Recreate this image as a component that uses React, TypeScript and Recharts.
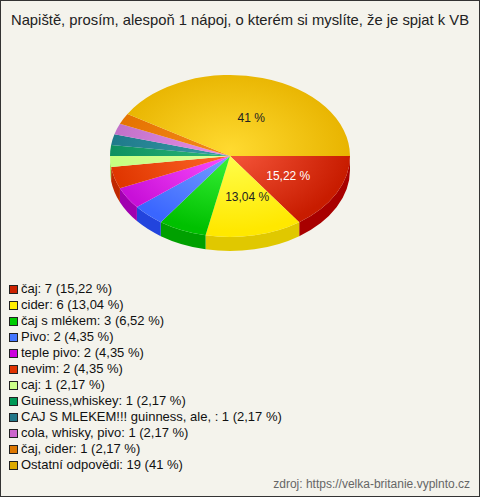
import React from 'react';
import { PieChart, Pie, Cell } from 'recharts';

const categories = [
  'čaj',
  'cider',
  'čaj s mlékem',
  'Pivo',
  'teple pivo',
  'nevim',
  'caj',
  'Guiness,whiskey',
  'CAJ S MLEKEM!!! guinness, ale, ',
  'cola, whisky, pivo',
  'čaj, cider',
  'Ostatní odpovědi',
];
const counts = [7, 6, 3, 2, 2, 2, 1, 1, 1, 1, 1, 19];
const percentLabels = ['15,22 %', '13,04 %', '6,52 %', '4,35 %', '4,35 %', '4,35 %', '2,17 %', '2,17 %', '2,17 %', '2,17 %', '2,17 %', '41 %'];
const sliceLabels = ['15,22 %', '13,04 %', '', '', '', '', '', '', '', '', '', '41 %'];

const legendColors = ['#cc2200', '#ffee00', '#00cc00', '#4477ff', '#cc00dd', '#e03300', '#ccff88', '#009955', '#227788', '#cc66cc', '#dd7700', '#ddaa00'];
const topInner = ['#f7583c', '#ffff50', '#3cf53c', '#7aa2ff', '#ff50ff', '#ff6a2a', '#e0ffa0', '#2cbb78', '#3a9aaa', '#e890e8', '#f58a1a', '#ffda30'];
const topOuter = ['#c81c00', '#ffe800', '#00c000', '#3a66ff', '#c810d8', '#e03600', '#c4ff80', '#0e9060', '#1e7a8a', '#c070c8', '#e47200', '#e8b400'];
const sideColors = ['#a80000', '#e0c800', '#00a000', '#2244dd', '#a000b0', '#c02800', '#a8e060', '#007848', '#146070', '#a050a8', '#c06000', '#c89a00'];
const labelColors = ['#ffffff', '#222222', '#222222', '#222222', '#222222', '#222222', '#222222', '#222222', '#222222', '#222222', '#222222', '#222222'];

const data = categories.map((name, i) => ({ name, value: counts[i] }));

const RATIO = 0.675;
const DEPTH = 14;

const renderSlice = (props: any) => {
  const { cx, cy, outerRadius, startAngle, endAngle, index } = props;
  const rx = outerRadius;
  const ry = outerRadius * RATIO;
  const t1 = -startAngle;
  const t2 = -endAngle;
  const pt = (t: number, dy = 0) => {
    const r = (t * Math.PI) / 180;
    return [cx + rx * Math.cos(r), cy + ry * Math.sin(r) + dy];
  };
  const [x1, y1] = pt(t1);
  const [x2, y2] = pt(t2);
  const large = t2 - t1 > 180 ? 1 : 0;
  const top = `M${cx},${cy} L${x1},${y1} A${rx},${ry} 0 ${large} 1 ${x2},${y2} Z`;

  let side: string | null = null;
  const s1 = Math.max(t1, 0);
  const s2 = Math.min(t2, 180);
  if (s2 > s1) {
    const [a1, b1] = pt(s1);
    const [a2, b2] = pt(s2);
    const [c2, d2] = pt(s2, DEPTH);
    const [c1, d1] = pt(s1, DEPTH);
    side = `M${a1},${b1} A${rx},${ry} 0 0 1 ${a2},${b2} L${c2},${d2} A${rx},${ry} 0 0 0 ${c1},${d1} Z`;
  }
  const mid = ((t1 + t2) / 2) * (Math.PI / 180);
  const lx = cx + rx * 0.5 * Math.cos(mid) + 5;
  const ly = cy + ry * 0.5 * Math.sin(mid) + 1;
  const txt = sliceLabels[index];
  return (
    <g>
      {side && <path d={side} fill={sideColors[index]} stroke="none" />}
      <path d={top} fill={`url(#grad${index})`} stroke="none" />
      {txt && (
        <text
          x={lx}
          y={ly}
          textAnchor="middle"
          dominantBaseline="central"
          fill={labelColors[index]}
          fontSize={12}
          fontFamily="'Liberation Sans', Arial, sans-serif"
        >
          {txt}
        </text>
      )}
    </g>
  );
};

export default function App() {
  return (
    <div
      style={{
        position: 'absolute',
        left: 0,
        top: 0,
        width: 480,
        height: 497,
        background: '#f4f3ec',
        fontFamily: "'Liberation Sans', Arial, sans-serif",
      }}
    >
      <PieChart width={480} height={497} margin={{ top: 0, right: 0, bottom: 0, left: 0 }}>
        <defs>
          {categories.map((_, i) => (
            <radialGradient
              key={i}
              id={`grad${i}`}
              gradientUnits="userSpaceOnUse"
              cx={0}
              cy={0}
              r={120}
              gradientTransform={`translate(230,150) scale(1,${RATIO})`}
            >
              <stop offset="0%" stopColor={topInner[i]} />
              <stop offset="100%" stopColor={topOuter[i]} />
            </radialGradient>
          ))}
        </defs>
        <Pie
          data={data}
          dataKey="value"
          nameKey="name"
          cx={230}
          cy={156}
          outerRadius={120}
          startAngle={0}
          endAngle={-360}
          label={renderSlice}
          labelLine={false}
          isAnimationActive={false}
          stroke="none"
        >
          {data.map((_, i) => (
            <Cell key={i} fill={legendColors[i]} fillOpacity={0} stroke="none" />
          ))}
        </Pie>
      </PieChart>
      <div
        style={{
          position: 'absolute',
          left: 0,
          top: 11,
          width: 480,
          textAlign: 'center',
          fontSize: 14.8,
          lineHeight: '18px',
          color: '#222',
          whiteSpace: 'nowrap',
        }}
      >
        Napiště, prosím, alespoň 1 nápoj, o kterém si myslíte, že je spjat k VB
      </div>
      <div style={{ position: 'absolute', left: 9, top: 281 }}>
        {categories.map((name, i) => (
          <div key={i} style={{ display: 'flex', alignItems: 'center', height: 16, whiteSpace: 'nowrap' }}>
            <div
              style={{
                width: 7,
                height: 7,
                border: '1px solid #222',
                background: legendColors[i],
                marginRight: 3,
              }}
            />
            <span style={{ fontSize: 13, color: '#111', lineHeight: '16px' }}>
              {`${name}: ${counts[i]} (${percentLabels[i]})`}
            </span>
          </div>
        ))}
      </div>
      <div
        style={{
          position: 'absolute',
          right: 10,
          top: 477,
          fontSize: 12,
          lineHeight: '15px',
          color: '#666',
          whiteSpace: 'nowrap',
        }}
      >
        zdroj: https://velka-britanie.vyplnto.cz
      </div>
      <div
        style={{
          position: 'absolute',
          left: 0,
          top: 0,
          width: 480,
          height: 497,
          boxSizing: 'border-box',
          border: '1px solid #333',
          pointerEvents: 'none',
        }}
      />
    </div>
  );
}
